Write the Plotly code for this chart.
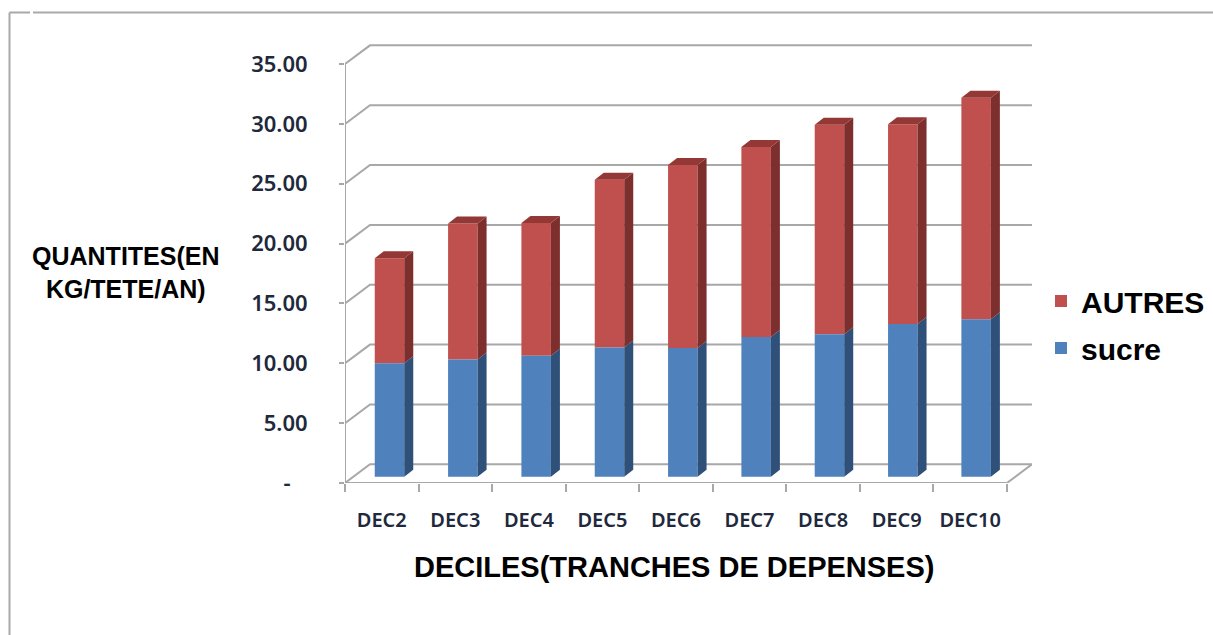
import plotly.graph_objects as go

# ---- data ----
categories = ["DEC2", "DEC3", "DEC4", "DEC5", "DEC6", "DEC7", "DEC8", "DEC9", "DEC10"]
sucre = [9.47, 9.80, 10.10, 10.80, 10.75, 11.67, 11.90, 12.75, 13.15]
autres = [8.78, 11.35, 11.10, 14.00, 15.30, 15.88, 17.50, 16.70, 18.50]
y_ticks = [0, 5, 10, 15, 20, 25, 30, 35]
y_labels = ["-\u00a0\u00a0\u00a0", "5.00", "10.00", "15.00", "20.00", "25.00", "30.00", "35.00"]

# ---- pseudo-3D style (in axis units) ----
W, H = 1213, 635
L, R, B, T = 345, 1032, 483, 44
UX, UY = 73.55, 11.97            # pixels per category / per value
WALL_DX, WALL_DY = 25 / UX, 18.7 / UY
BAR_OFF, BAR_W = 0.605, 29.5 / UX
BAR_DX, BAR_DY = 9 / UX, 7 / UY
BAR_BASE = 6.3 / UY
N = len(categories)
RED, RED_SIDE, RED_TOP = "#c0504d", "#7d2f2e", "#943836"
BLUE, BLUE_SIDE = "#4f81bd", "#2f5079"
GRID = "#a8a8a8"
TXT = "#20283c"
FONT = "Noto Sans"
ARIAL = "Liberation Sans"

fig = go.Figure()
xc = [i + BAR_OFF - 0.003 * i for i in range(N)]
base_r = [BAR_BASE + s for s in sucre]
fig.add_bar(x=xc, y=autres, base=base_r, width=BAR_W, name="AUTRES", legendgroup="a",
            marker=dict(color=RED, line=dict(width=0)))
fig.add_bar(x=xc, y=sucre, base=[BAR_BASE] * N, width=BAR_W, name="sucre", legendgroup="b",
            marker=dict(color=BLUE, line=dict(width=0)))


def face(xs, ys, color):
    fig.add_scatter(x=xs, y=ys, mode="lines", fill="toself", fillcolor=color,
                    line=dict(width=0), showlegend=False, hoverinfo="skip")


for x, s, a in zip(xc, sucre, autres):
    xr = x + BAR_W / 2
    xl = x - BAR_W / 2
    y0, y1, y2 = BAR_BASE, BAR_BASE + s, BAR_BASE + s + a
    face([xr, xr + BAR_DX, xr + BAR_DX, xr, xr], [y0, y0 + BAR_DY, y1 + BAR_DY, y1, y0], BLUE_SIDE)
    face([xr, xr + BAR_DX, xr + BAR_DX, xr, xr], [y1, y1 + BAR_DY, y2 + BAR_DY, y2, y1], RED_SIDE)
    face([xl, xl + BAR_DX, xr + BAR_DX, xr, xl], [y2, y2 + BAR_DY, y2 + BAR_DY, y2, y2], RED_TOP)

shapes = []
xmax = N + WALL_DX
for v in y_ticks:
    shapes.append(dict(type="path", layer="below", xref="x", yref="y",
                       path=f"M 0 {v} L {WALL_DX} {v + WALL_DY} L {xmax} {v + WALL_DY}",
                       line=dict(color=GRID, width=2)))
shapes.append(dict(type="line", layer="below", xref="x", yref="y", x0=N, y0=0,
                   x1=xmax, y1=WALL_DY, line=dict(color=GRID, width=2)))
# outer frame of the picture
shapes.append(dict(type="line", xref="paper", yref="paper", x0=9.5 / W, x1=30 / W, y0=1 - 12.5 / H, y1=1 - 12.5 / H,
                   line=dict(color="#a9a9a9", width=2)))
shapes.append(dict(type="line", xref="paper", yref="paper", x0=33 / W, x1=1, y0=1 - 12.5 / H, y1=1 - 12.5 / H,
                   line=dict(color="#a9a9a9", width=2)))
shapes.append(dict(type="line", xref="paper", yref="paper", x0=9.5 / W, x1=9.5 / W, y0=0, y1=1 - 12.5 / H,
                   line=dict(color="#a9a9a9", width=2)))

fig.update_layout(
    width=W, height=H, autosize=False, margin=dict(l=0, r=0, t=0, b=0),
    paper_bgcolor="white", plot_bgcolor="rgba(0,0,0,0)",
    barmode="overlay", shapes=shapes, hovermode=False,
    xaxis=dict(automargin=False, domain=[L / W, R / W], range=[0, (R - L) / UX], tickmode="array",
               tickvals=[i + 0.5 for i in range(N)], ticktext=categories,
               ticks="", ticklabelstandoff=23, showgrid=False, zeroline=False,
               showline=False, tickfont=dict(family=FONT, size=20, color=TXT, weight=600),
               minor=dict(tickmode="array", tickvals=list(range(N + 1)), ticks="outside",
                          ticklen=8, tickcolor=GRID, tickwidth=2, showgrid=False)),
    yaxis=dict(automargin=False, domain=[1 - B / H, 1 - T / H], range=[0, (B - T) / UY], tickmode="array",
               tickvals=y_ticks, ticktext=y_labels, ticks="outside", ticklen=5,
               tickcolor=GRID, tickwidth=2, showgrid=False, zeroline=False, showline=False,
               ticklabelstandoff=27, tickfont=dict(family=FONT, size=22, color=TXT, weight=600)),
    legend=dict(x=1041 / W, y=1 - 275 / H, xanchor="left", yanchor="top", traceorder="grouped",
                tracegroupgap=5,
                font=dict(family=ARIAL, size=30, color="#000000", weight="bold"),
                bgcolor="rgba(0,0,0,0)", itemclick=False, itemdoubleclick=False),
    annotations=[
        dict(text="DECILES(TRANCHES DE DEPENSES)", xref="paper", yref="paper",
             x=674 / W, y=1 - 567 / H, showarrow=False, xanchor="center", yanchor="middle",
             font=dict(family=ARIAL, size=29, color="#000000", weight="bold")),
        dict(text="QUANTITES(EN<br>KG/TETE/AN)", xref="paper", yref="paper",
             x=126 / W, y=1 - 272 / H, showarrow=False, xanchor="center", yanchor="middle",
             align="center", font=dict(family=ARIAL, size=25, color="#000000", weight="bold")),
    ],
)
# axis lines at the front of the box
fig.add_scatter(x=[0, N], y=[0, 0], mode="lines", line=dict(color=GRID, width=2),
                showlegend=False, hoverinfo="skip", cliponaxis=False)
fig.add_scatter(x=[0, 0], y=[0, 35], mode="lines", line=dict(color=GRID, width=2),
                showlegend=False, hoverinfo="skip", cliponaxis=False)

fig.write_html("out.html", config={"responsive": False, "displayModeBar": False},
               default_width=f"{W}px", default_height=f"{H}px",
               post_script="document.body.style.margin='0';document.body.style.overflow='hidden';")
